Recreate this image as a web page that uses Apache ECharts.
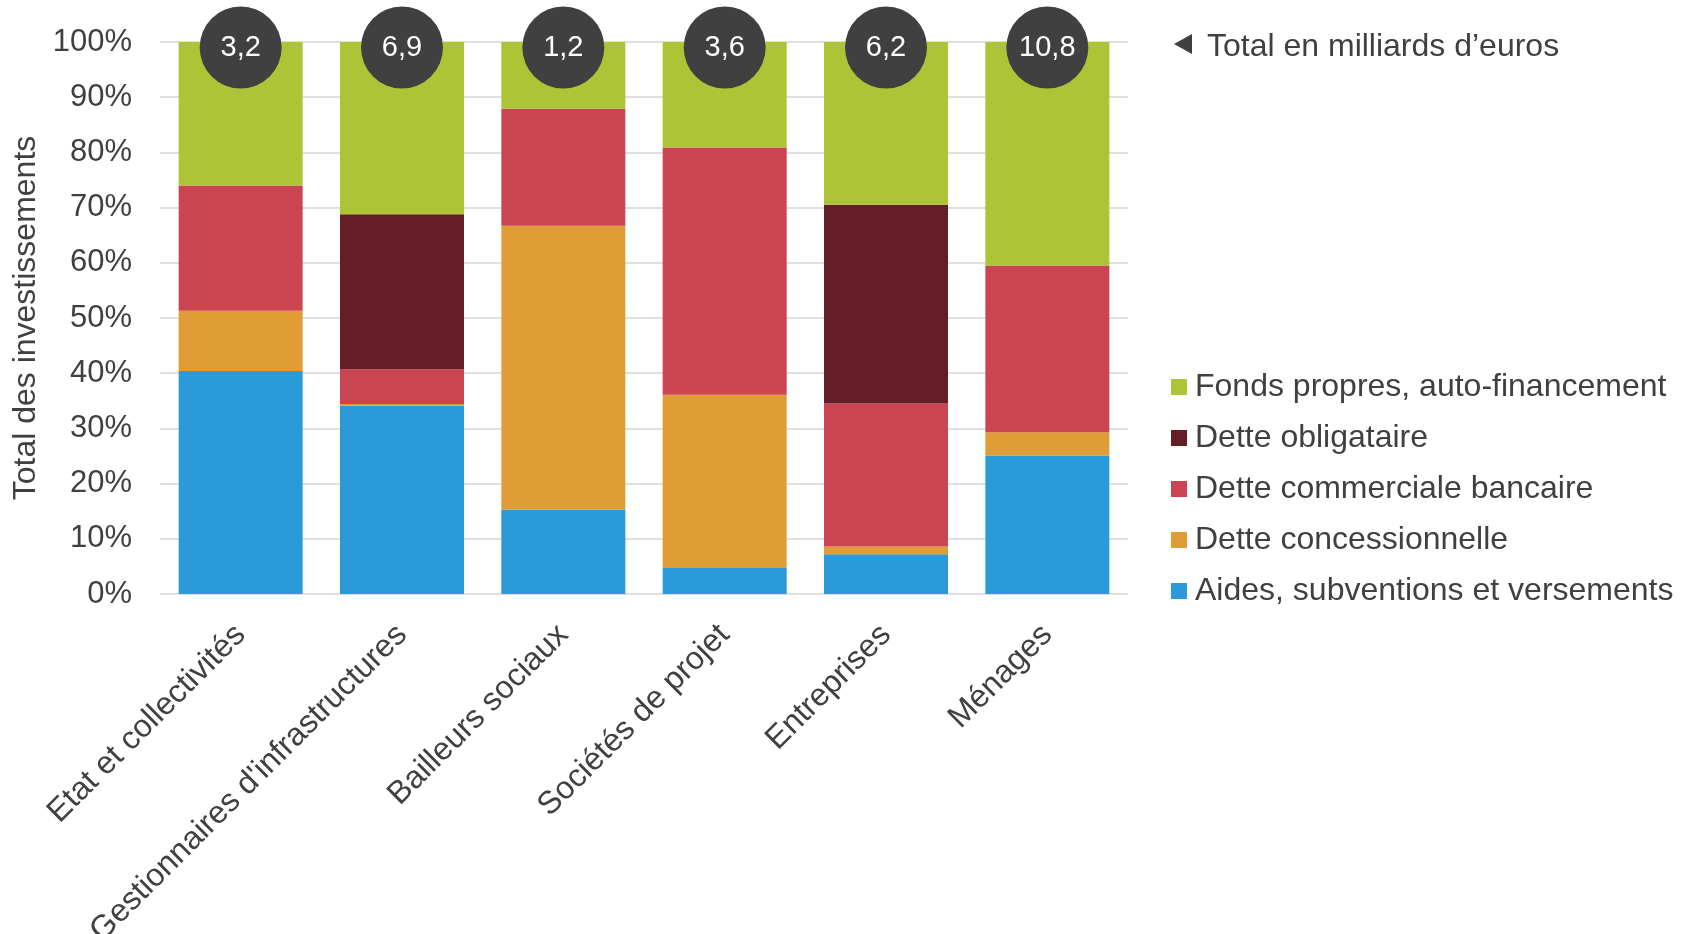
<!DOCTYPE html>
<html>
<head>
<meta charset="utf-8">
<script src="https://cdn.jsdelivr.net/npm/echarts@6/dist/echarts.min.js"></script>
<style>html,body{margin:0;padding:0;background:#fff}#chart{width:1692px;height:934px}</style>
</head>
<body>
<div id="chart"></div>
<script>
const categories = ['Etat et collectivités', "Gestionnaires d'infrastructures", 'Bailleurs sociaux', 'Sociétés de projet', 'Entreprises', 'Ménages'];
const aides = [40.4, 34.1, 15.3, 4.7, 7.2, 25.1];
const concessionnelle = [10.9, 0.3, 51.4, 31.4, 1.4, 4.2];
const commerciale = [22.7, 6.3, 21.2, 44.8, 25.9, 30.2];
const obligataire = [0, 28.1, 0, 0, 36.0, 0];
const fondsPropres = [26.0, 31.2, 12.1, 19.1, 29.5, 40.5];
const totals = [3.2, 6.9, 1.2, 3.6, 6.2, 10.8];
const yTicks = [0, 10, 20, 30, 40, 50, 60, 70, 80, 90, 100];
const seriesNames = ['Aides, subventions et versements', 'Dette concessionnelle', 'Dette commerciale bancaire', 'Dette obligataire', 'Fonds propres, auto-financement'];
const totalLabel = 'Total en milliards d’euros';
const axisTitle = 'Total des investissements';

const FONT = 'Liberation Sans, Arial, sans-serif';
const TXT = '#404040';
const colors = ['#2A9BD8', '#E09D35', '#CA4452', '#661E26', '#AEC437'];
const values = [aides, concessionnelle, commerciale, obligataire, fondsPropres];

const series = seriesNames.map((name, i) => {
  const s = {
    name: name,
    type: 'bar',
    stack: 'total',
    barWidth: 124,
    data: values[i],
    itemStyle: { color: colors[i] },
    emphasis: { disabled: true }
  };
  if (i === seriesNames.length - 1) {
    s.label = {
      show: true,
      position: ['50%', 5.5],
      formatter: p => String(totals[p.dataIndex]).replace('.', ','),
      width: 82,
      height: 82,
      lineHeight: 82,
      borderRadius: 41,
      backgroundColor: '#404040',
      color: '#ffffff',
      fontSize: 29,
      fontFamily: FONT,
      align: 'center',
      verticalAlign: 'middle'
    };
  }
  return s;
});

const chart = echarts.init(document.getElementById('chart'), null, { renderer: 'canvas' });
chart.setOption({
  animation: false,
  textStyle: { fontFamily: FONT, color: TXT },
  grid: { left: 160, right: 564, top: 42, bottom: 340, containLabel: false, outerBoundsMode: 'none' },
  legend: {
    orient: 'vertical',
    left: 1166,
    top: 366,
    itemWidth: 16,
    itemHeight: 16,
    itemGap: 19,
    icon: 'rect',
    data: seriesNames.slice().reverse(),
    textStyle: { fontSize: 32, color: TXT, fontFamily: FONT, padding: [0, 0, 0, 3] },
    selectedMode: false
  },
  xAxis: {
    type: 'category',
    data: categories,
    axisLine: { show: false },
    axisTick: { show: false },
    axisLabel: { interval: 0, rotate: 45, fontSize: 32, color: TXT, fontFamily: FONT, margin: 36 }
  },
  yAxis: {
    type: 'value',
    min: yTicks[0],
    max: yTicks[yTicks.length - 1],
    interval: yTicks[1] - yTicks[0],
    name: axisTitle,
    nameLocation: 'middle',
    nameGap: 118,
    nameTextStyle: { fontSize: 32, color: TXT, fontFamily: FONT },
    axisLine: { show: false },
    axisTick: { show: false },
    axisLabel: { formatter: v => v + '%', fontSize: 31, color: TXT, fontFamily: FONT, margin: 28 },
    splitLine: { lineStyle: { color: '#E0E0E0', width: 2 } }
  },
  graphic: [
    { type: 'polygon', shape: { points: [[1192, 34], [1192, 54], [1174, 44]] }, style: { fill: TXT } },
    { type: 'text', left: 1207, top: 31, style: { text: totalLabel, fontSize: 32, fill: TXT, fontFamily: FONT } }
  ],
  series: series
});
</script>
</body>
</html>
